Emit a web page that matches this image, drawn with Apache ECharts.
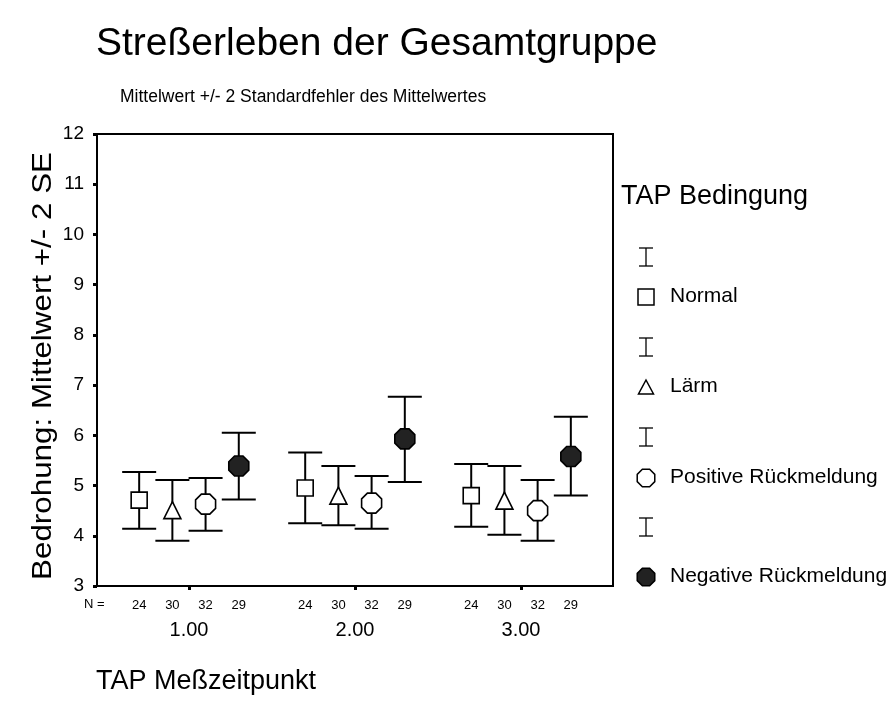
<!DOCTYPE html>
<html>
<head>
<meta charset="utf-8">
<script src="https://cdn.jsdelivr.net/npm/echarts@6/dist/echarts.min.js"></script>
<style>
  html, body { margin: 0; padding: 0; background: #fff; }
  #chart { width: 895px; height: 718px; }
</style>
</head>
<body>
<div id="chart"></div>
<script>
// TAP Messzeitpunkt (x-Kategorien)
const groups = [1, 2, 3];
const conditions = ["Normal", "Lärm", "Positive Rückmeldung", "Negative Rückmeldung"];
const nCounts = [24, 30, 32, 29];

// Mittelwerte je Bedingung, fuer Messzeitpunkt 1..3
const meanNormal = [4.71, 4.95, 4.80];
const meanLaerm = [4.51, 4.80, 4.70];
const meanPositive = [4.63, 4.65, 4.50];
const meanNegative = [5.39, 5.93, 5.58];

// untere / obere Grenze (Mittelwert +/- 2 SE)
const lowNormal = [4.14, 4.25, 4.18];
const lowLaerm = [3.90, 4.21, 4.02];
const lowPositive = [4.10, 4.14, 3.90];
const lowNegative = [4.72, 5.07, 4.80];

const highNormal = [5.27, 5.66, 5.43];
const highLaerm = [5.11, 5.39, 5.39];
const highPositive = [5.15, 5.19, 5.11];
const highNegative = [6.05, 6.77, 6.37];

const yTicks = [3, 4, 5, 6, 7, 8, 9, 10, 11, 12];

const means = [meanNormal, meanLaerm, meanPositive, meanNegative];
const lows = [lowNormal, lowLaerm, lowPositive, lowNegative];
const highs = [highNormal, highLaerm, highPositive, highNegative];

// Versatz der vier Bedingungen innerhalb eines Messzeitpunkts (x-Einheiten)
const slot = [-0.3, -0.1, 0.1, 0.3];

const FONT = "Liberation Sans, Arial, sans-serif";
const octPath = "path://M29,0 L71,0 L100,29 L100,71 L71,100 L29,100 L0,71 L0,29 Z";
const markers = [
    { symbol: "rect", size: 16, fill: "#fff" },
    { symbol: "triangle", size: 17, fill: "#fff" },
    { symbol: octPath, size: 20, fill: "#fff" },
    { symbol: octPath, size: 20, fill: "#222" },
];

function octPoints(cx, cy, r) {
    const pts = [];
    for (let k = 0; k < 8; k++) {
        const a = Math.PI / 8 + k * Math.PI / 4;
        pts.push([cx + r * Math.cos(a), cy + r * Math.sin(a)]);
    }
    return pts;
}

const chart = echarts.init(document.getElementById("chart"));

const series = [];
conditions.forEach(function (name, ci) {
    const barData = groups.map(function (g, gi) {
        return [g + slot[ci], lows[ci][gi], highs[ci][gi], nCounts[ci]];
    });
    series.push({
        type: "custom",
        name: name + " SE",
        data: barData,
        encode: { x: 0, y: [1, 2] },
        z: 2,
        clip: false,
        silent: true,
        renderItem: function (params, api) {
            const x = api.value(0);
            const lo = api.coord([x, api.value(1)]);
            const hi = api.coord([x, api.value(2)]);
            const half = 17;
            const st = { stroke: "#000", lineWidth: 2 };
            const base = params.coordSys.y + params.coordSys.height;
            return {
                type: "group",
                children: [
                    { type: "line", shape: { x1: hi[0], y1: hi[1], x2: lo[0], y2: lo[1] }, style: st },
                    { type: "line", shape: { x1: hi[0] - half, y1: hi[1], x2: hi[0] + half, y2: hi[1] }, style: st },
                    { type: "line", shape: { x1: lo[0] - half, y1: lo[1], x2: lo[0] + half, y2: lo[1] }, style: st },
                    {
                        type: "text", x: lo[0], y: base + 19,
                        style: { text: String(api.value(3)), fill: "#000", font: "13px " + FONT, align: "center", verticalAlign: "middle" },
                    },
                ],
            };
        },
    });
    series.push({
        type: "scatter",
        name: name,
        data: groups.map(function (g, gi) { return [g + slot[ci], means[ci][gi]]; }),
        symbol: markers[ci].symbol,
        symbolSize: markers[ci].size,
        z: 3,
        silent: true,
        itemStyle: { color: markers[ci].fill, borderColor: "#000", borderWidth: 1.6, opacity: 1 },
    });
});

// Legende rechts
const legendGraphics = [
    { type: "text", left: 621, top: 183, style: { text: "TAP Bedingung", font: "27px " + FONT, fill: "#000" } },
];
const beamY = [257, 347, 437, 527];
const itemY = [297, 387, 478, 577];
const lx = 646;
beamY.forEach(function (y) {
    legendGraphics.push({
        type: "group",
        children: [
            { type: "line", shape: { x1: lx, y1: y - 9, x2: lx, y2: y + 9 }, style: { stroke: "#000", lineWidth: 1.3 } },
            { type: "line", shape: { x1: lx - 7, y1: y - 9, x2: lx + 7, y2: y - 9 }, style: { stroke: "#000", lineWidth: 1.3 } },
            { type: "line", shape: { x1: lx - 7, y1: y + 9, x2: lx + 7, y2: y + 9 }, style: { stroke: "#000", lineWidth: 1.3 } },
        ],
    });
});
itemY.forEach(function (y, i) {
    let shape;
    if (i === 0) {
        shape = { type: "rect", shape: { x: lx - 8, y: y - 8, width: 16, height: 16 }, style: { fill: "#fff", stroke: "#000", lineWidth: 1.5 } };
    } else if (i === 1) {
        shape = { type: "polygon", shape: { points: [[lx, y - 7], [lx + 7.5, y + 7], [lx - 7.5, y + 7]] }, style: { fill: "#fff", stroke: "#000", lineWidth: 1.5 } };
    } else {
        shape = { type: "polygon", shape: { points: octPoints(lx, y, 9.5) }, style: { fill: i === 2 ? "#fff" : "#222", stroke: "#000", lineWidth: 1.5 } };
    }
    legendGraphics.push(shape);
    legendGraphics.push({
        type: "text", left: 670, top: y - 11,
        style: { text: conditions[i], font: "21px " + FONT, fill: "#000" },
    });
});

const option = {
    backgroundColor: "#fff",
    animation: false,
    grid: {
        left: 97, top: 134, width: 516, height: 452,
        show: true, borderColor: "#000", borderWidth: 2,
        containLabel: false, outerBoundsMode: "none",
    },
    xAxis: {
        type: "value",
        min: 0.446,
        max: 3.554,
        axisLine: { show: true, lineStyle: { color: "#000", width: 2 } },
        axisTick: { show: true, customValues: groups, length: 4, lineStyle: { color: "#000", width: 3 } },
        axisLabel: {
            customValues: groups,
            margin: 34,
            color: "#000",
            fontSize: 20,
            fontFamily: FONT,
            formatter: function (v) { return v.toFixed(2); },
        },
        splitLine: { show: false },
    },
    yAxis: {
        type: "value",
        min: yTicks[0],
        max: yTicks[yTicks.length - 1],
        interval: 1,
        axisLine: { show: true, lineStyle: { color: "#000", width: 2 } },
        axisTick: { show: true, length: 4, lineStyle: { color: "#000", width: 3 } },
        axisLabel: { color: "#000", fontSize: 19, fontFamily: FONT, margin: 13 },
        splitLine: { show: false },
    },
    series: series,
    graphic: [
        { type: "text", left: 96, top: 25, style: { text: "Streßerleben der Gesamtgruppe", font: "39px " + FONT, fill: "#000" } },
        { type: "text", left: 120, top: 88, style: { text: "Mittelwert +/- 2 Standardfehler des Mittelwertes", font: "17.5px " + FONT, fill: "#000" } },
        {
            type: "text", x: 43, y: 366, rotation: Math.PI / 2, scaleX: 1.12,
            style: { text: "Bedrohung: Mittelwert +/- 2 SE", font: "28px " + FONT, fill: "#000", align: "center", verticalAlign: "middle" },
        },
        { type: "text", left: 84, top: 598, style: { text: "N =", font: "13px " + FONT, fill: "#000" } },
        { type: "text", left: 96, top: 668, style: { text: "TAP Meßzeitpunkt", font: "27px " + FONT, fill: "#000" } },
    ].concat(legendGraphics),
};

chart.setOption(option);
</script>
</body>
</html>
